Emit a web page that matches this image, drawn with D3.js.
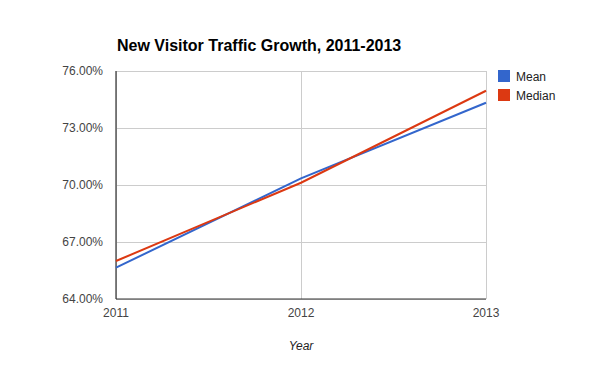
<!doctype html>
<html>
<head>
<script src="https://d3js.org/d3.v7.min.js"></script>
<style>
  body { margin: 0; background: #fff; }
  text { font-family: Arial, "Liberation Sans", sans-serif; }
  .grid line { stroke: #cccccc; }
  .grid path { stroke-width: 0; }
</style>
</head>
<body>
<svg id="chart" width="600" height="371"></svg>
<script>
  const years = [2011, 2012, 2013];
  const meanValues = [65.65, 70.35, 74.33];
  const medianValues = [66.0, 70.12, 74.96];
  const yTicks = [64, 67, 70, 73, 76];
  const seriesNames = ['Mean', 'Median'];
  const colors = ['#3366cc', '#dc3912'];

  const series = [meanValues, medianValues];

  const svg = d3.select('#chart');
  const plotLeft = 116, plotRight = 486, plotTop = 71, plotBottom = 299;

  const x = d3.scaleLinear().domain([2011, 2013]).range([plotLeft, plotRight]);
  const y = d3.scaleLinear().domain([64, 76]).range([plotBottom, plotTop]);

  // gridlines
  svg.append('g')
    .attr('class', 'grid')
    .attr('transform', `translate(${plotLeft},0)`)
    .call(d3.axisLeft(y).tickValues(yTicks).tickSize(-(plotRight - plotLeft)).tickFormat(''));

  svg.append('g')
    .attr('class', 'grid')
    .attr('transform', `translate(0,${plotTop})`)
    .call(d3.axisBottom(x).tickValues(years).tickSize(plotBottom - plotTop).tickFormat(''));

  // axis lines
  svg.append('line')
    .attr('x1', plotLeft).attr('x2', plotLeft).attr('y1', plotTop).attr('y2', plotBottom)
    .attr('stroke', '#333').attr('stroke-width', 1.2);
  svg.append('line')
    .attr('x1', plotLeft).attr('x2', plotRight).attr('y1', plotBottom).attr('y2', plotBottom)
    .attr('stroke', '#333').attr('stroke-width', 1.2);

  // tick labels
  svg.selectAll('text.ylab')
    .data(yTicks)
    .enter().append('text')
    .attr('class', 'ylab')
    .attr('x', plotLeft - 13)
    .attr('y', d => y(d) + 4)
    .attr('text-anchor', 'end')
    .attr('font-size', 12)
    .attr('fill', '#444')
    .text(d => d.toFixed(2) + '%');

  svg.selectAll('text.xlab')
    .data(years)
    .enter().append('text')
    .attr('class', 'xlab')
    .attr('x', d => x(d))
    .attr('y', plotBottom + 18)
    .attr('text-anchor', 'middle')
    .attr('font-size', 12)
    .attr('fill', '#444')
    .text(d => d);

  svg.append('text')
    .attr('x', (plotLeft + plotRight) / 2)
    .attr('y', 350)
    .attr('text-anchor', 'middle')
    .attr('font-size', 12)
    .attr('font-style', 'italic')
    .attr('fill', '#222')
    .text('Year');

  // lines
  const line = d3.line()
    .x((d, i) => x(years[i]))
    .y(d => y(d));

  svg.selectAll('path.series')
    .data(series)
    .enter().append('path')
    .attr('class', 'series')
    .attr('d', line)
    .attr('fill', 'none')
    .attr('stroke', (d, i) => colors[i])
    .attr('stroke-width', 2);

  // title
  svg.append('text')
    .attr('x', 117)
    .attr('y', 51)
    .attr('font-size', 16)
    .attr('font-weight', 'bold')
    .attr('fill', '#000')
    .text('New Visitor Traffic Growth, 2011-2013');

  // legend
  const legend = svg.selectAll('g.legend')
    .data(seriesNames)
    .enter().append('g')
    .attr('class', 'legend')
    .attr('transform', (d, i) => `translate(498,${70 + i * 19})`);

  legend.append('rect')
    .attr('width', 12).attr('height', 12)
    .attr('fill', (d, i) => colors[i]);

  legend.append('text')
    .attr('x', 18)
    .attr('y', 10.5)
    .attr('font-size', 12)
    .attr('fill', '#222')
    .text(d => d);
</script>
</body>
</html>
